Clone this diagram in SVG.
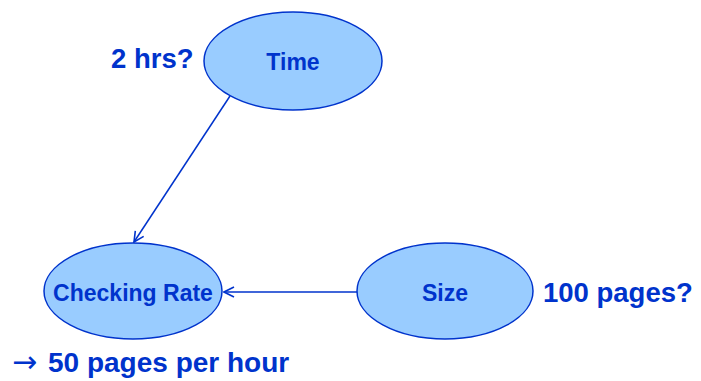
<svg xmlns="http://www.w3.org/2000/svg" width="701" height="381" viewBox="0 0 701 381">
  <style>
    .node ellipse { fill: #99ccff; stroke: #0033cc; stroke-width: 1.5; }
    .lbl { font-family: "Liberation Sans", Arial, sans-serif; font-weight: bold; fill: #0033cc; }
    .nl { font-size: 23px; text-anchor: middle; }
    .note { font-size: 27.5px; }
    .edge { stroke: #0033cc; stroke-width: 1.5; fill: none; marker-end: url(#head); }
  </style>
  <defs>
    <marker id="head" viewBox="0 0 12 12" refX="11" refY="6" markerWidth="12" markerHeight="12" markerUnits="userSpaceOnUse" orient="auto">
      <path d="M1,1 L11,6 L1,11" fill="none" stroke="#0033cc" stroke-width="1.6"/>
    </marker>
  </defs>
  <rect width="701" height="381" fill="#ffffff"/>

  <g id="connectors">
    <line class="edge" x1="230" y1="96" x2="134" y2="242"/>
    <line class="edge" x1="357" y1="292" x2="224" y2="292"/>
  </g>

  <g id="time" class="node">
    <ellipse cx="293" cy="61" rx="89" ry="49"/>
    <text class="lbl nl" x="293" y="70">Time</text>
  </g>
  <g id="checking-rate" class="node">
    <ellipse cx="133" cy="291" rx="89" ry="48"/>
    <text class="lbl nl" x="133" y="301">Checking Rate</text>
  </g>
  <g id="size" class="node">
    <ellipse cx="445" cy="291" rx="88" ry="48"/>
    <text class="lbl nl" x="445" y="301">Size</text>
  </g>

  <text class="lbl note" x="111" y="68">2 hrs?</text>
  <text class="lbl note" x="543" y="302">100 pages?</text>
  <text x="12" y="372" font-family="DejaVu Sans, sans-serif" font-size="30px" fill="#0033cc">→</text>
  <text class="lbl note" x="48" y="372" style="font-size:28px">50 pages per hour</text>
</svg>
